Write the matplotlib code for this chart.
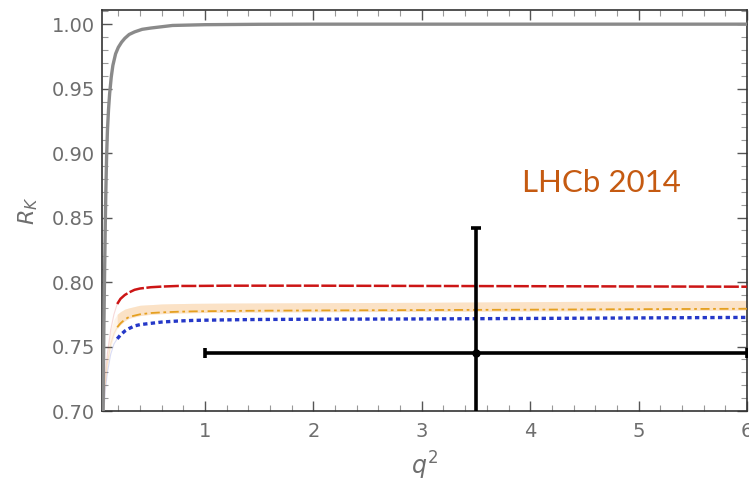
import numpy as np
import matplotlib
matplotlib.use("Agg")
import matplotlib.pyplot as plt
from matplotlib.ticker import MultipleLocator, FormatStrFormatter

# Standard Model prediction
q2_sm = [0.047, 0.055, 0.060, 0.067, 0.074, 0.080, 0.085, 0.092, 0.100, 0.110,
         0.120, 0.135, 0.150, 0.175, 0.200, 0.230, 0.260, 0.300, 0.350, 0.420,
         0.500, 0.600, 0.700, 0.850, 1.0, 1.5, 2.0, 3.0, 4.0, 5.0, 6.0]
rk_sm = [0.500, 0.640, 0.700, 0.765, 0.810, 0.845, 0.870, 0.897, 0.918, 0.934,
         0.946, 0.959, 0.968, 0.977, 0.982, 0.986, 0.989, 0.992, 0.994, 0.996,
         0.997, 0.998, 0.999, 0.9993, 0.9996, 0.9999, 1.0, 1.0, 1.0, 1.0, 1.0]

# New-physics scenarios
q2_np = [0.047, 0.060, 0.080, 0.100, 0.130, 0.160, 0.190, 0.220, 0.260, 0.300,
         0.350, 0.400, 0.500, 0.600, 0.750, 0.900, 1.2, 1.5, 2.0, 3.0, 4.0, 5.0, 6.0]
rk_red = [0.650, 0.700, 0.728, 0.745, 0.763, 0.775, 0.783, 0.787, 0.790, 0.792,
          0.794, 0.795, 0.796, 0.7965, 0.797, 0.797, 0.7972, 0.7972, 0.7972, 0.7970,
          0.7968, 0.7966, 0.7964]
rk_blue = [0.640, 0.690, 0.716, 0.730, 0.744, 0.752, 0.756, 0.759, 0.762, 0.764,
           0.766, 0.767, 0.768, 0.769, 0.7698, 0.7703, 0.7707, 0.7710, 0.7712, 0.7714,
           0.7718, 0.7722, 0.7726]
rk_orange = [0.645, 0.695, 0.722, 0.737, 0.752, 0.760, 0.765, 0.768, 0.771, 0.773,
             0.774, 0.775, 0.776, 0.7765, 0.777, 0.7773, 0.7776, 0.7778, 0.7780, 0.7783,
             0.7786, 0.7790, 0.7793]
band_lo = [0.643, 0.692, 0.719, 0.734, 0.749, 0.758, 0.764, 0.767, 0.770, 0.772,
           0.773, 0.774, 0.775, 0.7755, 0.776, 0.7763, 0.7766, 0.7768, 0.7770, 0.7773,
           0.7776, 0.7780, 0.7783]
band_hi = [0.650, 0.702, 0.731, 0.747, 0.763, 0.771, 0.775, 0.777, 0.779, 0.780,
           0.781, 0.782, 0.7825, 0.783, 0.7833, 0.7835, 0.7837, 0.7838, 0.7840, 0.7843,
           0.7848, 0.7853, 0.7858]
solid_from = 6  # index where the curves become fully drawn

# LHCb 2014 measurement
lhcb_q2 = [3.5]
lhcb_q2_err = [2.5]
lhcb_rk = [0.745]
lhcb_err_lo = [0.082]
lhcb_err_hi = [0.097]

fig = plt.figure(figsize=(7.49, 4.87), dpi=100)
ax = fig.add_axes([0.1358, 0.156, 0.8615, 0.8235])

s = solid_from
ax.fill_between(q2_np, band_lo, band_hi, color="#fbe2c6", lw=0, alpha=0.35, zorder=1)
ax.fill_between(q2_np[s:], band_lo[s:], band_hi[s:], color="#fbe2c6", lw=0, zorder=1)

# faint low-q2 tails
ax.plot(q2_np[:s + 1], rk_red[:s + 1], color="#d43030", lw=0.8, alpha=0.18, zorder=2)
ax.plot(q2_np[:s + 1], rk_blue[:s + 1], color="#3344cc", lw=0.8, alpha=0.18, zorder=2)
ax.plot(q2_np[:s + 1], rk_orange[:s + 1], color="#e8a030", lw=0.8, alpha=0.18, zorder=2)

ax.plot(q2_np[s:], rk_red[s:], color="#cc1515", lw=1.8, dashes=(6, 1.0), zorder=3)
ax.plot(q2_np[s:], rk_orange[s:], color="#e5a020", lw=1.3, dashes=(5, 2, 1.5, 2), zorder=3)
ax.plot(q2_np[s:], rk_blue[s:], color="#2538c8", lw=2.4, dashes=(1.3, 1.0), zorder=3)

ax.plot(q2_sm, rk_sm, color="#8a8a8a", lw=2.4, zorder=4)

ax.errorbar(lhcb_q2, lhcb_rk, xerr=lhcb_q2_err, yerr=[lhcb_err_lo, lhcb_err_hi],
            fmt="o", color="black", ms=5, elinewidth=2.6, capsize=3.5, capthick=2.6,
            zorder=6)

ax.set_xlim(0.047, 6.0)
ax.set_ylim(0.70, 1.011)

ax.xaxis.set_major_locator(MultipleLocator(1))
ax.xaxis.set_minor_locator(MultipleLocator(0.2))
ax.yaxis.set_major_locator(MultipleLocator(0.05))
ax.yaxis.set_minor_locator(MultipleLocator(0.01))
ax.yaxis.set_major_formatter(FormatStrFormatter("%.2f"))

ax.tick_params(which="both", direction="in", top=True, right=True,
               colors="#555555", labelcolor="#6e6e6e", labelsize=14)
ax.tick_params(which="major", length=7, width=1.0)
ax.tick_params(which="minor", length=4, width=0.8, colors="#999999")
for lab in ax.get_xticklabels() + ax.get_yticklabels():
    lab.set_fontfamily("DejaVu Sans")
ax.tick_params(axis="x", pad=8)
ax.tick_params(axis="y", pad=5)
for sp in ax.spines.values():
    sp.set_color("#333333")
    sp.set_linewidth(1.2)

ax.set_xlabel(r"$q^2$", fontsize=17, color="#6e6e6e", labelpad=6)
ax.set_ylabel(r"$R_K$", fontsize=16, color="#6e6e6e", labelpad=8)

ax.text(0.774, 0.569, "LHCb 2014", transform=ax.transAxes,
        fontsize=22.5, color="#c55a11", family="Lato", ha="center", va="center")

fig.savefig("out.png", dpi=100)
